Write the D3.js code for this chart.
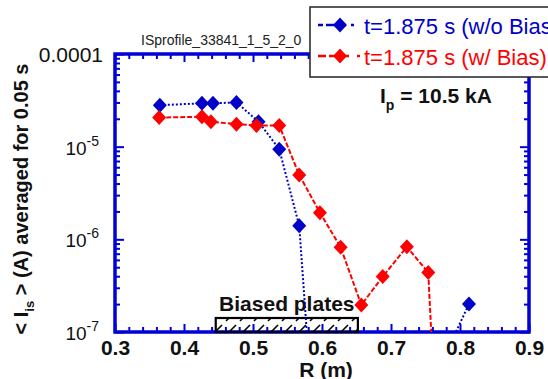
<!DOCTYPE html>
<html>
<head>
<meta charset="utf-8">
<script src="https://cdn.jsdelivr.net/npm/d3@7"></script>
<style>
  html, body { margin: 0; padding: 0; background: #fff; }
  svg { display: block; font-family: 'Liberation Sans', Arial, sans-serif; }
</style>
</head>
<body>
<svg id="chart"></svg>
<script>
// data
const woBiasR = [0.365, 0.426, 0.442, 0.476, 0.508, 0.538, 0.567, 0.600, 0.780, 0.813]
const woBiasI = [2.8e-5, 2.94e-5, 2.94e-5, 3.0e-5, 1.86e-5, 9.4e-6, 1.4e-6, 5e-10, 6e-8, 2.0e-7]
const wBiasR = [0.364, 0.426, 0.439, 0.476, 0.505, 0.538, 0.567, 0.597, 0.627, 0.657, 0.688, 0.723, 0.754, 0.785]
const wBiasI = [2.06e-5, 2.1e-5, 1.86e-5, 1.75e-5, 1.69e-5, 1.69e-5, 4.96e-6, 1.94e-6, 8.2e-7, 1.96e-7, 3.96e-7, 8.3e-7, 4.38e-7, 1e-11]
const seriesNames = ['t=1.875 s (w/o Bias)', 't=1.875 s (w/ Bias)']
const plateRange = [0.446, 0.652]
const xTicks = [0.3, 0.4, 0.5, 0.6, 0.7, 0.8, 0.9]
const yTicks = [1e-7, 1e-6, 1e-5, 1e-4]

const width = 548
const height = 379
const margin = { top: 54, right: 19, bottom: 47, left: 115 }
const blue = '#0000c8'
const axisBlue = '#0000d8'
const red = '#ff0000'

const svg = d3.select('#chart').attr('width', width).attr('height', height)

const x = d3.scaleLinear().domain([0.3, 0.9]).range([margin.left, width - margin.right])
const y = d3.scaleLog().domain([1e-7, 1e-4]).range([height - margin.bottom, margin.top])
const [x0, x1] = x.range()
const [y1, y0] = y.range()

// clip for data lines
svg.append('defs').append('clipPath').attr('id', 'plotClip')
  .append('rect').attr('x', x0).attr('y', y0).attr('width', x1 - x0).attr('height', y1 - y0)

// hatch pattern for the biased plates
svg.select('defs').append('pattern')
  .attr('id', 'hatch').attr('patternUnits', 'userSpaceOnUse')
  .attr('width', 14).attr('height', 14)
  .append('path').attr('d', 'M2,13 L12,3').attr('stroke', '#000').attr('stroke-width', 1.6)

// minor ticks
const xMinor = d3.range(0.3, 0.9001, 0.02).filter(v => Math.abs(v * 10 - Math.round(v * 10)) > 1e-6)
const yMinor = []
for (let e = -7; e < -4; e++) for (let k = 2; k <= 9; k++) yMinor.push(k * Math.pow(10, e))

function tickAxis(axis, tr) {
  const g = svg.append('g').attr('transform', tr).call(axis)
  g.select('.domain').remove()
  g.selectAll('line').attr('stroke', axisBlue).attr('stroke-width', 2)
  return g
}

// bottom
const xAxisG = tickAxis(d3.axisBottom(x).tickValues(xTicks).tickSize(-8).tickPadding(8)
  .tickFormat(d3.format('.1f')), `translate(0,${y1})`)
xAxisG.selectAll('text').attr('font-size', 21).attr('font-weight', 'bold').attr('fill', '#111')
  .attr('font-family', 'Liberation Sans, Arial, sans-serif')
tickAxis(d3.axisBottom(x).tickValues(xMinor).tickSize(-5).tickFormat(''), `translate(0,${y1})`)
// top
tickAxis(d3.axisTop(x).tickValues(xTicks).tickSize(-8).tickFormat(''), `translate(0,${y0})`)
tickAxis(d3.axisTop(x).tickValues(xMinor).tickSize(-5).tickFormat(''), `translate(0,${y0})`)
// left
const yAxisG = tickAxis(d3.axisLeft(y).tickValues(yTicks).tickSize(-9).tickPadding(21).tickFormat(''), `translate(${x0},0)`)
tickAxis(d3.axisLeft(y).tickValues(yMinor).tickSize(-5).tickFormat(''), `translate(${x0},0)`)
// right
tickAxis(d3.axisRight(y).tickValues(yTicks).tickSize(-9).tickFormat(''), `translate(${x1},0)`)
tickAxis(d3.axisRight(y).tickValues(yMinor).tickSize(-5).tickFormat(''), `translate(${x1},0)`)

// y tick labels, 0.0001 then powers of ten
yAxisG.selectAll('.tick').each(function (d) {
  const t = d3.select(this).select('text')
    .attr('font-family', 'Liberation Sans, Arial, sans-serif')
    .attr('fill', '#111').attr('font-size', 21).attr('x', -12).attr('dy', '0.36em')
  if (d >= 1e-4) {
    t.text('0.0001')
  }
  else {
    t.attr('font-size', 19).attr('dy', '0.4em').attr('x', -16)
    t.append('tspan').text('10')
    t.append('tspan').attr('dy', -9).attr('font-size', 14).text(Math.round(Math.log10(d)))
  }
})

// plot frame
svg.append('rect').attr('x', x0).attr('y', y0).attr('width', x1 - x0).attr('height', y1 - y0)
  .attr('fill', 'none').attr('stroke', axisBlue).attr('stroke-width', 3.5)

// biased plates
svg.append('rect')
  .attr('x', x(plateRange[0])).attr('y', y1 - 14)
  .attr('width', x(plateRange[1]) - x(plateRange[0])).attr('height', 14)
  .attr('fill', 'url(#hatch)').attr('stroke', '#000').attr('stroke-width', 2.2)
svg.append('text')
  .attr('x', (x(plateRange[0]) + x(plateRange[1])) / 2).attr('y', y1 - 21)
  .attr('text-anchor', 'middle').attr('font-size', 21).attr('font-weight', 'bold').attr('fill', '#111')
  .text('Biased plates')

// series
const series = [
  { r: woBiasR, v: woBiasI, color: blue, dash: '2,2' },
  { r: wBiasR, v: wBiasI, color: red, dash: '5,2' },
]
const line = d3.line().x(d => x(d[0])).y(d => y(d[1]))
const diamond = 'M0,-7.5 L7,0 L0,7.5 L-7,0 Z'

const plotG = svg.append('g').attr('clip-path', 'url(#plotClip)')
series.forEach((s) => {
  const pts = s.r.map((r, i) => [r, s.v[i]])
  plotG.append('path').datum(pts)
    .attr('d', line).attr('fill', 'none')
    .attr('stroke', s.color).attr('stroke-width', 2).attr('stroke-dasharray', s.dash)
})
series.forEach((s) => {
  const pts = s.r.map((r, i) => [r, s.v[i]]).filter(p => p[1] >= 1e-7)
  plotG.selectAll(null).data(pts).enter().append('path')
    .attr('d', diamond)
    .attr('transform', d => `translate(${x(d[0])},${y(d[1])})`)
    .attr('fill', s.color)
})

// title
svg.append('text').attr('x', 141).attr('y', 45)
  .attr('font-size', 14).attr('fill', '#222').text('ISprofile_33841_1_5_2_0')

// Ip label
const ip = svg.append('text').attr('x', 380).attr('y', 103)
  .attr('font-size', 21).attr('font-weight', 'bold').attr('fill', '#111')
ip.append('tspan').text('I')
ip.append('tspan').attr('dy', 7).attr('font-size', 14).text('p')
ip.append('tspan').attr('dy', -7).text(' = 10.5 kA')

// axis titles
svg.append('text').attr('x', (x0 + x1) / 2 + 4).attr('y', 377)
  .attr('text-anchor', 'middle').attr('font-size', 21).attr('font-weight', 'bold').attr('fill', '#111')
  .text('R (m)')

const yt = svg.append('text')
  .attr('transform', 'translate(28,199) rotate(-90)')
  .attr('text-anchor', 'middle').attr('font-size', 20).attr('font-weight', 'bold').attr('fill', '#111')
yt.append('tspan').text('< I')
yt.append('tspan').attr('dy', 6).attr('font-size', 13).text('is')
yt.append('tspan').attr('dy', -6).text(' > (A) averaged for 0.05 s')

// legend
const lg = svg.append('g')
lg.append('rect').attr('x', 310).attr('y', 7).attr('width', 260).attr('height', 70)
  .attr('fill', '#fff').attr('stroke', '#222').attr('stroke-width', 1.5)
series.forEach((s, i) => {
  const ly = 25 + i * 31
  lg.append('line').attr('x1', 318).attr('x2', 360).attr('y1', ly).attr('y2', ly)
    .attr('stroke', s.color).attr('stroke-width', 2.5).attr('stroke-dasharray', i === 0 ? '5,3,20' : '8,3,20')
  lg.append('path').attr('d', diamond).attr('transform', `translate(340,${ly})`).attr('fill', s.color)
  lg.append('text').attr('x', 364).attr('y', ly + 9)
    .attr('font-size', 22).attr('fill', s.color).text(seriesNames[i])
})
</script>
</body>
</html>
